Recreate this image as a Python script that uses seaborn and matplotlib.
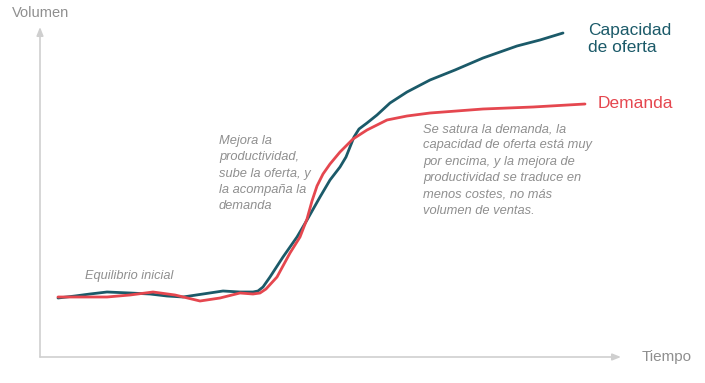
import matplotlib
matplotlib.use("Agg")
import matplotlib.pyplot as plt
import seaborn as sns
import pandas as pd

sns.set_style("white")
plt.rcParams['font.family'] = ['Liberation Sans', 'DejaVu Sans']

# Data (time, volume); chart units with origin at the axis corner
oferta_t = [18, 35, 50, 67, 90, 110, 127, 143, 163, 183, 200, 213, 218, 223, 230, 243, 257, 267, 280,
            290, 300, 306, 310, 314, 319, 327, 337, 350, 367, 390, 415, 443, 477, 500, 523]
oferta_v = [59, 61, 63, 65, 64, 63, 61, 60, 63, 66, 65, 65, 66, 70, 80, 100, 120, 137, 160,
            177, 190, 200, 210, 220, 228, 234, 242, 254, 265, 277, 287, 299, 311, 317, 324]

demanda_t = [18, 40, 67, 90, 113, 135, 160, 180, 200, 213, 220, 226, 237, 250, 260, 267, 272, 277,
             283, 290, 300, 313, 327, 347, 367, 390, 443, 493, 545]
demanda_v = [60, 60, 60, 62, 65, 62, 56, 59, 64, 63, 64, 68, 80, 104, 120, 138, 156, 171,
             183, 193, 205, 218, 227, 237, 241, 244, 248, 250, 253]

series_names = ["Capacidad de oferta", "Demanda"]
colors = {"Capacidad de oferta": "#1b5a69", "Demanda": "#e5474f"}

df = pd.concat([
    pd.DataFrame({"t": oferta_t, "v": oferta_v, "serie": series_names[0]}),
    pd.DataFrame({"t": demanda_t, "v": demanda_v, "serie": series_names[1]}),
])

fig = plt.figure(figsize=(7.05, 3.83), dpi=100)
ax = fig.add_axes([40/705, 0, 1 - 40/705, (383 - 26)/383])
ax.set_xlim(0, 665)
ax.set_ylim(-26, 331)
sns.lineplot(data=df, x="t", y="v", hue="serie", palette=colors, sort=False,
             linewidth=2, legend=False, ax=ax)
for line in ax.get_lines():
    line.set_solid_joinstyle("round")
    line.set_solid_capstyle("round")
for s in ax.spines.values():
    s.set_visible(False)
ax.set_xticks([]); ax.set_yticks([])
ax.set_xlabel(""); ax.set_ylabel("")

axc = "#cfcfcf"
ax.annotate("", xy=(581, 0), xytext=(0, 0),
            arrowprops=dict(arrowstyle="-|>,head_length=0.5,head_width=0.2", color=axc, lw=1.2,
                            shrinkA=0, shrinkB=0))
ax.annotate("", xy=(0, 330), xytext=(0, 0),
            arrowprops=dict(arrowstyle="-|>,head_length=0.5,head_width=0.2", color=axc, lw=1.2,
                            shrinkA=0, shrinkB=0), annotation_clip=False)

gray = "#8f8f8f"
fig.text(12/705, 1 - 13/383, "Volumen", fontsize=10.5, color=gray, va="center", ha="left")
fig.text(642/705, 1 - 357/383, "Tiempo", fontsize=11, color=gray, va="center", ha="left")

fig.text(588/705, 1 - 39/383, "Capacidad\nde oferta", fontsize=12.5, color=colors["Capacidad de oferta"],
         va="center", ha="left", linespacing=1.25)
fig.text(598/705, 1 - 104/383, "Demanda", fontsize=12.5, color=colors["Demanda"],
         va="center", ha="left")

fig.text(85/705, 1 - 276/383, "Equilibrio inicial", fontsize=9.2, color=gray, style="italic",
         va="center", ha="left")
fig.text(219/705, 1 - 135/383, "Mejora la\nproductividad,\nsube la oferta, y\nla acompaña la\ndemanda",
         fontsize=9.3, color=gray, style="italic", va="top", ha="left", linespacing=1.48)
fig.text(423/705, 1 - 123/383,
         "Se satura la demanda, la\ncapacidad de oferta está muy\npor encima, y la mejora de\n"
         "productividad se traduce en\nmenos costes, no más\nvolumen de ventas.",
         fontsize=9.3, color=gray, style="italic", va="top", ha="left", linespacing=1.48)

fig.savefig("out.png", dpi=100)
